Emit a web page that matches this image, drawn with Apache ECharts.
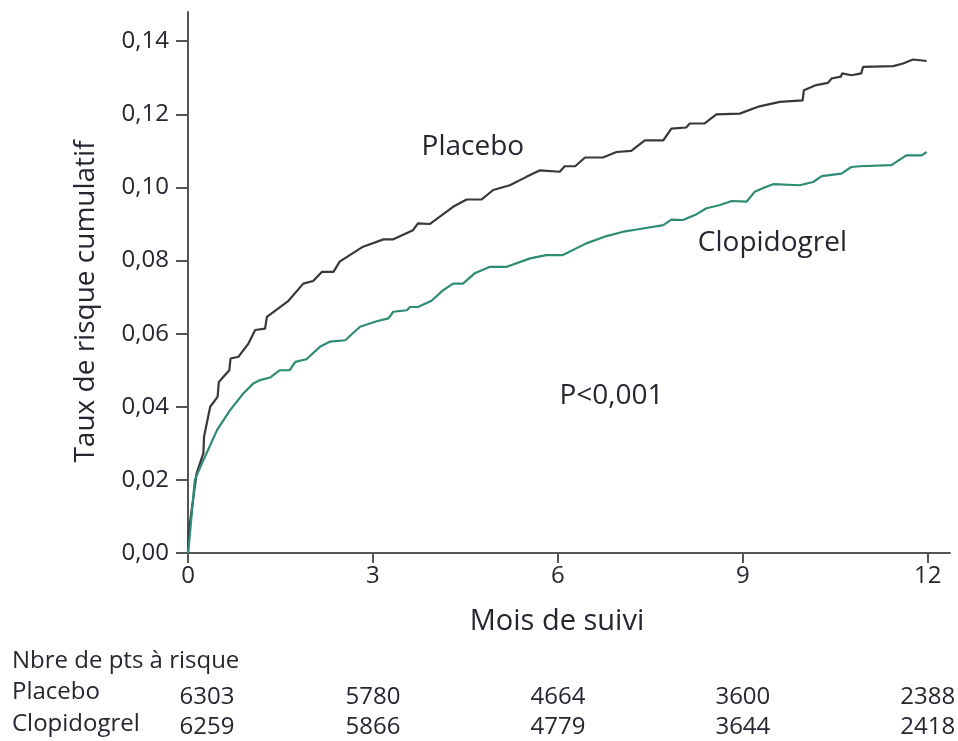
<!DOCTYPE html>
<html>
<head>
<meta charset="utf-8">
<script src="https://cdn.jsdelivr.net/npm/echarts@6/dist/echarts.min.js"></script>
<style>
  html, body { margin: 0; padding: 0; background: #fff; }
  #chart { width: 958px; height: 741px; }
</style>
</head>
<body>
<div id="chart"></div>
<script>
// courbes : [mois, taux cumulatif]
const placebo = [
  [0, 0], [0.01, 0.0055], [0.14, 0.0218], [0.25, 0.0273], [0.26, 0.0318], [0.36, 0.040],
  [0.48, 0.0427], [0.5, 0.0468], [0.67, 0.050], [0.69, 0.0532], [0.82, 0.0537],
  [0.98, 0.0573], [1.09, 0.061], [1.25, 0.0614], [1.28, 0.0646], [1.63, 0.069],
  [1.87, 0.0737], [2.03, 0.0744], [2.17, 0.0769], [2.36, 0.0769], [2.46, 0.0797],
  [2.84, 0.0838], [3.17, 0.0858], [3.33, 0.0858], [3.65, 0.0883], [3.73, 0.0902],
  [3.92, 0.090], [4.30, 0.0947], [4.52, 0.0967], [4.76, 0.0967], [4.95, 0.0993],
  [5.22, 0.1006], [5.49, 0.1029], [5.71, 0.1047], [6.03, 0.1043], [6.11, 0.1058],
  [6.28, 0.1058], [6.44, 0.1082], [6.73, 0.1082], [6.95, 0.1097], [7.19, 0.110],
  [7.41, 0.1129], [7.71, 0.1129], [7.84, 0.1161], [8.08, 0.1164], [8.14, 0.1175],
  [8.38, 0.1175], [8.57, 0.120], [8.95, 0.1202], [9.27, 0.1222], [9.60, 0.1234],
  [9.97, 0.1238], [9.99, 0.1266], [10.19, 0.128], [10.38, 0.1286], [10.44, 0.1298],
  [10.59, 0.1303], [10.61, 0.1312], [10.76, 0.1307], [10.92, 0.1312], [10.95, 0.133],
  [11.44, 0.1332], [11.60, 0.1339], [11.76, 0.135], [11.98, 0.1346]
];
const clopidogrel = [
  [0, 0], [0.01, 0.0013], [0.11, 0.020], [0.25, 0.0254], [0.47, 0.0336], [0.68, 0.039],
  [0.90, 0.0437], [1.06, 0.0464], [1.17, 0.0473], [1.33, 0.048], [1.49, 0.050],
  [1.65, 0.050], [1.74, 0.0523], [1.92, 0.053], [2.14, 0.0564], [2.30, 0.0578],
  [2.55, 0.0582], [2.79, 0.0619], [3.06, 0.0634], [3.25, 0.0642], [3.33, 0.066],
  [3.55, 0.0664], [3.60, 0.0673], [3.73, 0.0673], [3.95, 0.069], [4.14, 0.0719],
  [4.30, 0.0737], [4.46, 0.0737], [4.65, 0.0765], [4.90, 0.0783], [5.17, 0.0783],
  [5.55, 0.0806], [5.81, 0.0815], [6.08, 0.0815], [6.46, 0.0847], [6.79, 0.0867],
  [7.06, 0.0879], [7.28, 0.0885], [7.71, 0.0897], [7.84, 0.0912], [8.03, 0.0911],
  [8.25, 0.0927], [8.41, 0.0943], [8.63, 0.0952], [8.82, 0.0963], [9.06, 0.0961],
  [9.19, 0.0988], [9.38, 0.1002], [9.49, 0.1009], [9.92, 0.1006], [10.14, 0.1015],
  [10.28, 0.1031], [10.60, 0.1038], [10.76, 0.1056], [10.90, 0.1058], [11.41, 0.1061],
  [11.65, 0.1088], [11.90, 0.1088], [11.98, 0.1097]
];

const xTicks = [0, 3, 6, 9, 12];
const yTicks = [0, 0.02, 0.04, 0.06, 0.08, 0.10, 0.12, 0.14];
const riskPlacebo = [6303, 5780, 4664, 3600, 2388];
const riskClopidogrel = [6259, 5866, 4779, 3644, 2418];

const textColor = '#262630';
const axisColor = '#555';
const font = '"Open Sans", "Noto Sans", sans-serif';

const chart = echarts.init(document.getElementById('chart'));

chart.setOption({
  animation: false,
  grid: { left: 188, right: 8, top: 12, bottom: 188 },
  xAxis: {
    type: 'value',
    min: 0,
    max: 12.36,
    name: 'Mois de suivi',
    nameLocation: 'middle',
    nameGap: 54,
    nameTextStyle: { color: textColor, fontSize: 29, fontFamily: font, padding: [0, 24, 0, 0] },
    axisLine: { lineStyle: { color: axisColor, width: 2 } },
    axisTick: { customValues: xTicks, length: 10, lineStyle: { color: axisColor, width: 2 } },
    axisLabel: {
      customValues: xTicks, color: textColor, fontSize: 24, fontFamily: font, margin: 11
    },
    splitLine: { show: false }
  },
  yAxis: {
    type: 'value',
    min: 0,
    max: 0.148,
    name: 'Taux de risque cumulatif',
    nameLocation: 'middle',
    nameGap: 88,
    nameTextStyle: { color: textColor, fontSize: 28, fontFamily: font, padding: [0, 38, 0, 0] },
    axisLine: { show: true, lineStyle: { color: axisColor, width: 2 } },
    axisTick: { show: true, customValues: yTicks, length: 12, lineStyle: { color: axisColor, width: 2 } },
    axisLabel: {
      customValues: yTicks, color: textColor, fontSize: 24, fontFamily: font, margin: 19,
      formatter: v => v.toFixed(2).replace('.', ',')
    },
    splitLine: { show: false }
  },
  series: [
    {
      name: 'Placebo',
      type: 'line',
      data: placebo,
      showSymbol: false,
      lineStyle: { color: '#383838', width: 2.2 }
    },
    {
      name: 'Clopidogrel',
      type: 'line',
      data: clopidogrel,
      showSymbol: false,
      lineStyle: { color: '#2e8b74', width: 2.2 }
    }
  ]
});

// étiquettes et tableau des patients à risque, placés via l'échelle de l'axe x
const px = v => chart.convertToPixel({ gridIndex: 0 }, v);
const label = (text, at) => ({
  type: 'text', x: px(at)[0], y: px(at)[1],
  style: { text: text, fill: textColor, font: '28px ' + font, align: 'center', verticalAlign: 'middle' }
});
const graphics = [
  label('Placebo', [4.62, 0.111]),
  label('Clopidogrel', [9.48, 0.0847]),
  label('P<0,001', [6.87, 0.043]),
  { type: 'text', x: 12, y: 661,
    style: { text: 'Nbre de pts à risque', fill: textColor, font: '24px ' + font, verticalAlign: 'middle' } },
  { type: 'text', x: 12, y: 692,
    style: { text: 'Placebo', fill: textColor, font: '24px ' + font, verticalAlign: 'middle' } },
  { type: 'text', x: 12, y: 724,
    style: { text: 'Clopidogrel', fill: textColor, font: '24px ' + font, verticalAlign: 'middle' } }
];
xTicks.forEach((t, i) => {
  const x = px([t, 0])[0] + (i === 0 ? 19 : 0);
  graphics.push({ type: 'text', x: x, y: 697,
    style: { text: String(riskPlacebo[i]), fill: textColor, font: '24px ' + font, align: 'center', verticalAlign: 'middle' } });
  graphics.push({ type: 'text', x: x, y: 727,
    style: { text: String(riskClopidogrel[i]), fill: textColor, font: '24px ' + font, align: 'center', verticalAlign: 'middle' } });
});
chart.setOption({ graphic: graphics });
</script>
</body>
</html>
